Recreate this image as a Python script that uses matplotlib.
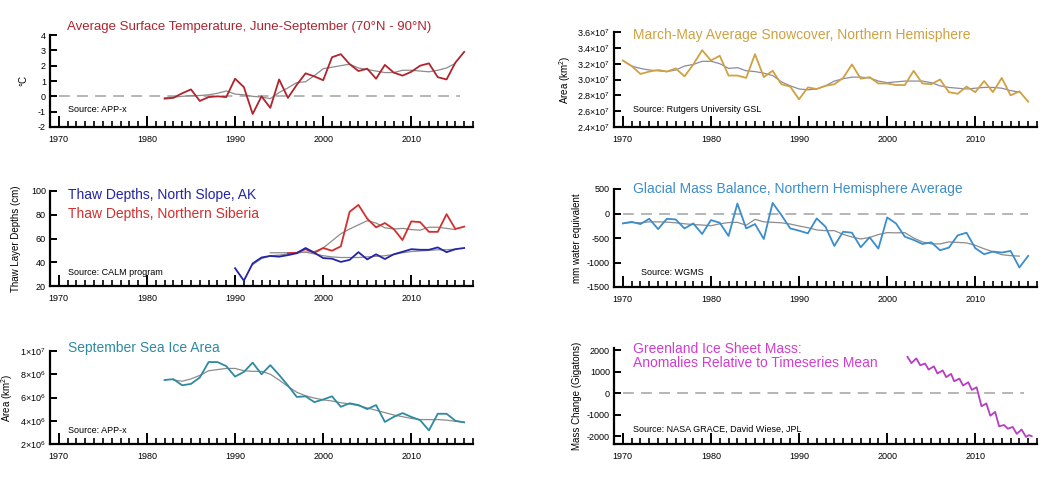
import matplotlib
matplotlib.use('Agg')
import matplotlib.pyplot as plt
from matplotlib.ticker import MultipleLocator

plt.rcParams['font.family'] = ['Liberation Sans', 'DejaVu Sans']
plt.rcParams['mathtext.fontset'] = 'custom'
plt.rcParams['mathtext.rm'] = 'Liberation Sans'
plt.rcParams['mathtext.it'] = 'Liberation Sans'

# --- data ---
temp_years = list(range(1982, 2017))
temp_vals = [-0.15, -0.1, 0.2, 0.45, -0.3, -0.05, 0.0, -0.05, 1.15, 0.6, -1.15, 0.0, -0.75,
             1.1, -0.1, 0.75, 1.5, 1.3, 1.05, 2.55, 2.75, 2.1, 1.65, 1.8, 1.15, 2.05, 1.55,
             1.35, 1.6, 2.0, 2.15, 1.25, 1.1, 2.2, 2.9]
temp_smooth_years = list(range(1982, 2016))
temp_smooth = [-0.1, -0.05, 0.0, 0.05, 0.05, 0.1, 0.2, 0.35, 0.15, 0.1, 0.0, -0.05, -0.15,
               0.25, 0.55, 0.9, 0.95, 1.35, 1.8, 1.9, 2.0, 2.1, 1.85, 1.75, 1.65, 1.55, 1.55,
               1.7, 1.7, 1.65, 1.6, 1.7, 1.85, 2.15]

snow_years = list(range(1970, 2017))
snow_vals = [3.24, 3.17, 3.07, 3.10, 3.12, 3.10, 3.14, 3.04, 3.19, 3.37, 3.24, 3.30, 3.05,
             3.05, 3.02, 3.32, 3.03, 3.11, 2.94, 2.91, 2.75, 2.90, 2.88, 2.92, 2.94, 3.02,
             3.19, 3.01, 3.03, 2.95, 2.95, 2.93, 2.93, 3.11, 2.95, 2.94, 3.00, 2.84, 2.82,
             2.91, 2.84, 2.98, 2.84, 3.02, 2.80, 2.85, 2.72]
snow_smooth_years = list(range(1970, 2016))
snow_smooth = [3.24, 3.17, 3.14, 3.12, 3.11, 3.10, 3.12, 3.17, 3.19, 3.23, 3.23, 3.20, 3.14,
               3.15, 3.11, 3.10, 3.08, 3.05, 2.97, 2.92, 2.88, 2.87, 2.88, 2.92, 2.98, 3.01,
               3.03, 3.03, 3.02, 2.98, 2.96, 2.97, 2.98, 2.98, 2.98, 2.96, 2.92, 2.90, 2.89,
               2.88, 2.89, 2.90, 2.90, 2.89, 2.86, 2.84]

ak_years = list(range(1990, 2017))
ak_vals = [35, 24.5, 39, 44, 45.3, 44.7, 46, 47.6, 52, 48, 43.5, 43, 40.3, 42, 48.5, 42.4,
           46.7, 42.7, 46.7, 48.8, 51, 50.5, 50.5, 52.5, 48.5, 51, 52]
ak_smooth_years = list(range(1992, 2016))
ak_smooth = [38, 43, 45.5, 46, 47, 48, 48.5, 47, 45.5, 44.5, 44, 44, 44, 44.5, 45, 45.5,
             46.5, 48, 49, 49.5, 50, 50.5, 50.5, 51]
sib_years = list(range(1996, 2017))
sib_vals = [47.6, 48, 51, 48, 52, 49.7, 53.4, 82.5, 88.3, 76.7, 69.4, 73, 68, 58.7, 74.4,
            73.8, 65.6, 65.6, 80.5, 68, 70]
sib_smooth_years = list(range(1994, 2016))
sib_smooth = [48, 48, 48, 48, 48.5, 49, 52, 58, 64, 68, 71.5, 75, 73, 69, 68, 68.5, 67.5,
              67, 69.5, 69.5, 68.5, 67.5]

glac_years = list(range(1970, 2017))
glac_vals = [-203, -170, -216, -108, -318, -108, -122, -304, -203, -419, -135, -189, -459,
             203, -304, -216, -520, 216, -34, -304, -351, -405, -101, -270, -662, -372, -392,
             -689, -486, -716, -81, -203, -473, -540, -622, -588, -750, -696, -446, -392,
             -709, -831, -777, -797, -764, -1101, -865]
glac_smooth_years = list(range(1970, 2016))
glac_smooth = [-200, -185, -190, -170, -170, -175, -190, -210, -225, -235, -250, -210, -185,
               -180, -240, -120, -170, -180, -190, -215, -255, -290, -335, -350, -350, -425,
               -480, -520, -490, -430, -390, -395, -390, -500, -580, -620, -620, -580, -590,
               -600, -650, -720, -780, -840, -860, -870]

ice_years = list(range(1982, 2017))
ice_vals = [7.5, 7.58, 7.05, 7.17, 7.72, 9.05, 9.05, 8.7, 7.8, 8.2, 9.0, 8.0, 8.78, 7.94,
            7.03, 6.05, 6.1, 5.6, 5.83, 6.1, 5.2, 5.5, 5.35, 5.0, 5.35, 3.9, 4.33, 4.66,
            4.33, 4.05, 3.17, 4.6, 4.6, 4.0, 3.86]
ice_smooth_years = list(range(1983, 2017))
ice_smooth = [7.5, 7.4, 7.6, 7.9, 8.3, 8.4, 8.5, 8.5, 8.3, 8.25, 8.25, 8.0, 7.5, 6.95,
              6.45, 6.15, 5.95, 5.8, 5.7, 5.55, 5.45, 5.3, 5.1, 4.9, 4.7, 4.5, 4.35, 4.2,
              4.1, 4.1, 4.1, 4.05, 3.95, 3.88]

grace_time = [2002.3, 2002.75, 2003.3, 2003.75, 2004.3, 2004.7, 2005.3, 2005.7, 2006.3,
              2006.7, 2007.25, 2007.6, 2008.2, 2008.6, 2009.2, 2009.6, 2010.15, 2010.7,
              2011.25, 2011.7, 2012.25, 2012.7, 2013.25, 2013.7, 2014.25, 2014.7, 2015.25,
              2015.75, 2016.1, 2016.4]
grace_vals = [1690, 1400, 1620, 1300, 1380, 1100, 1250, 920, 1060, 750, 900, 560, 680, 360,
              510, 160, 280, -600, -470, -1040, -860, -1530, -1470, -1640, -1560, -1880,
              -1680, -2020, -1940, -1990]

year_ticks = [1970, 1980, 1990, 2000, 2010]

W, H = 1053, 478
fig = plt.figure(figsize=(W / 100, H / 100), dpi=100)

GRAY = '#8c8c8c'
DASH = '#b0b0b0'
TITLE_SIZE = 10


def make_ax(left, top, right, bottom, ylim, yticks, yticklabels, ylabel, ylabel_x):
    ax = fig.add_axes([left / W, 1 - bottom / H, (right - left) / W, (bottom - top) / H])
    ax.set_xlim(1969, 2017)
    ax.set_ylim(*ylim)
    for s in ['top', 'right']:
        ax.spines[s].set_visible(False)
    for s in ['left', 'bottom']:
        ax.spines[s].set_linewidth(1.6)
    ax.set_xticks(year_ticks)
    ax.xaxis.set_minor_locator(MultipleLocator(1))
    ax.tick_params(axis='x', which='major', direction='in', length=8, width=1.4,
                   labelsize=6.5, pad=6)
    ax.tick_params(axis='x', which='minor', direction='in', length=4, width=1.2)
    ax.set_yticks(yticks)
    ax.set_yticklabels(yticklabels)
    ax.tick_params(axis='y', direction='in', length=5, width=1.4, labelsize=6.5, pad=3)
    ax.set_ylabel(ylabel, fontsize=7)
    ax.yaxis.set_label_coords(ylabel_x, 0.5)
    ax.patch.set_visible(False)
    return ax


# Row 1 left: temperature
ax1 = make_ax(50, 35, 473, 127, (-2, 4), range(-2, 5), [str(v) for v in range(-2, 5)],
              '°C', -0.05)
ax1.plot([1970, 2015.5], [0, 0], color=DASH, lw=1.3, dashes=(6, 4))
ax1.plot(temp_smooth_years, temp_smooth, color=GRAY, lw=0.9)
ax1.plot(temp_years, temp_vals, color='#b0242e', lw=1.3)
ax1.text(0.041, 1.087, 'Average Surface Temperature, June-September (70°N - 90°N)',
         transform=ax1.transAxes, color='#b0242e', fontsize=9.5, va='center')
ax1.text(0.043, 0.185, 'Source: APP-x', transform=ax1.transAxes, fontsize=6.5, va='center')

# Row 1 right: snowcover
snow_ticks = [2.4, 2.6, 2.8, 3.0, 3.2, 3.4, 3.6]
ax2 = make_ax(614, 32, 1037, 127, (2.4, 3.6), snow_ticks,
              [f'{v:.1f}' + r'$\times$10$^7$' for v in snow_ticks],
              'Area (km$^2$)', -0.097)
ax2.plot(snow_smooth_years, snow_smooth, color='#8a8aa8', lw=0.9)
ax2.plot(snow_years, snow_vals, color='#cfa140', lw=1.3)
ax2.text(0.045, 0.97, 'March-May Average Snowcover, Northern Hemisphere',
         transform=ax2.transAxes, color='#cfa140', fontsize=TITLE_SIZE, va='center')
ax2.text(0.045, 0.18, 'Source: Rutgers University GSL', transform=ax2.transAxes,
         fontsize=6.5, va='center')

# Row 2 left: thaw depths
ax3 = make_ax(50, 191, 473, 286, (20, 100), range(20, 101, 20),
              [str(v) for v in range(20, 101, 20)], 'Thaw Layer Depths (cm)', -0.069)
ax3.plot(ak_smooth_years, ak_smooth, color=GRAY, lw=0.9)
ax3.plot(sib_smooth_years, sib_smooth, color=GRAY, lw=0.9)
ax3.plot(sib_years, sib_vals, color='#d22f2f', lw=1.3)
ax3.plot(ak_years, ak_vals, color='#2424a6', lw=1.3)
ax3.text(0.043, 0.957, 'Thaw Depths, North Slope, AK', transform=ax3.transAxes,
         color='#2424a6', fontsize=TITLE_SIZE, va='center')
ax3.text(0.043, 0.753, 'Thaw Depths, Northern Siberia', transform=ax3.transAxes,
         color='#d22f2f', fontsize=TITLE_SIZE, va='center')
ax3.text(0.043, 0.14, 'Source: CALM program', transform=ax3.transAxes, fontsize=6.5,
         va='center')

# Row 2 right: glacial mass balance
ax4 = make_ax(614, 189, 1037, 287, (-1500, 500), range(-1500, 501, 500),
              [str(v) for v in range(-1500, 501, 500)], 'mm water equivalent', -0.076)
ax4.plot([1970, 2016], [0, 0], color=DASH, lw=1.3, dashes=(6, 4))
ax4.plot(glac_smooth_years, glac_smooth, color=GRAY, lw=0.9)
ax4.plot(glac_years, glac_vals, color='#3b8dcb', lw=1.3)
ax4.text(0.045, 1.0, 'Glacial Mass Balance, Northern Hemisphere Average',
         transform=ax4.transAxes, color='#3b8dcb', fontsize=TITLE_SIZE, va='center')
ax4.text(0.064, 0.15, 'Source: WGMS', transform=ax4.transAxes, fontsize=6.5, va='center')

# Row 3 left: sea ice
ice_ticks = [2, 4, 6, 8, 10]
ax5 = make_ax(50, 351, 473, 444, (2, 10), ice_ticks,
              [f'{v}' + r'$\times$10$^6$' for v in ice_ticks[:-1]] + [r'1$\times$10$^7$'],
              'Area (km$^2$)', -0.083)
ax5.plot(ice_smooth_years, ice_smooth, color=GRAY, lw=0.9)
ax5.plot(ice_years, ice_vals, color='#2e8aa0', lw=1.3)
ax5.text(0.043, 1.03, 'September Sea Ice Area', transform=ax5.transAxes,
         color='#2e8aa0', fontsize=TITLE_SIZE, va='center')
ax5.text(0.043, 0.15, 'Source: APP-x', transform=ax5.transAxes, fontsize=6.5, va='center')

# Row 3 right: Greenland
ax6 = make_ax(614, 348, 1037, 444, (-2350, 2100), range(-2000, 2001, 1000),
              [str(v) for v in range(-2000, 2001, 1000)], 'Mass Change (Gigatons)', -0.076)
ax6.plot([1970, 2015.5], [0, 0], color=DASH, lw=1.3, dashes=(6, 4))
ax6.plot(grace_time, grace_vals, color='#b83cc4', lw=1.3)
ax6.text(0.045, 0.985, 'Greenland Ice Sheet Mass:', transform=ax6.transAxes,
         color='#d23cd2', fontsize=TITLE_SIZE, va='center')
ax6.text(0.045, 0.84, 'Anomalies Relative to Timeseries Mean', transform=ax6.transAxes,
         color='#d23cd2', fontsize=TITLE_SIZE, va='center')
ax6.text(0.045, 0.156, 'Source: NASA GRACE, David Wiese, JPL', transform=ax6.transAxes,
         fontsize=6.5, va='center')

fig.savefig('out.png', dpi=100)
